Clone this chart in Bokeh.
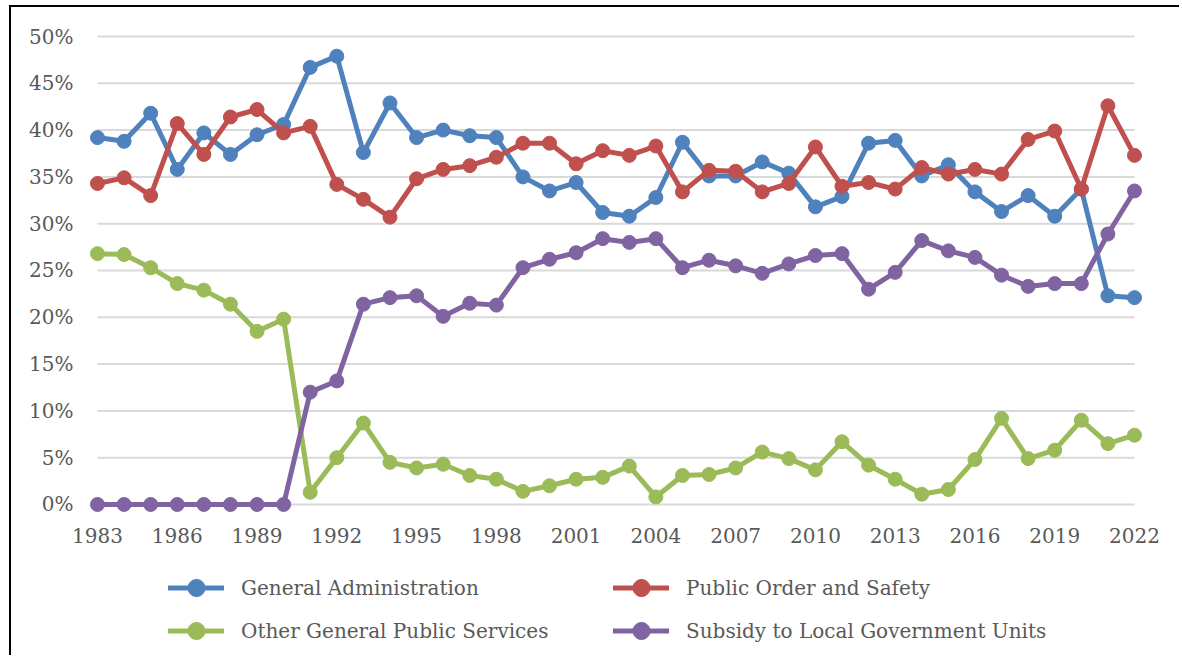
from bokeh.plotting import figure
from bokeh.models import Range1d, Legend, LegendItem, ColumnDataSource
from bokeh.core.properties import value
from bokeh.embed import file_html
from bokeh.resources import INLINE

years = list(range(1983, 2023))

# shares in percent
general_admin = [39.2, 38.8, 41.8, 35.8, 39.7, 37.4, 39.5, 40.6, 46.7, 47.9,
                 37.6, 42.9, 39.2, 40.0, 39.4, 39.2, 35.0, 33.5, 34.4, 31.2,
                 30.8, 32.8, 38.7, 35.1, 35.1, 36.6, 35.4, 31.8, 32.9, 38.6,
                 38.9, 35.1, 36.3, 33.4, 31.3, 33.0, 30.8, 33.7, 22.3, 22.1]
public_order = [34.3, 34.9, 33.0, 40.7, 37.4, 41.4, 42.2, 39.7, 40.4, 34.2,
                32.6, 30.7, 34.8, 35.8, 36.2, 37.1, 38.6, 38.6, 36.4, 37.8,
                37.3, 38.3, 33.4, 35.7, 35.6, 33.4, 34.3, 38.2, 34.0, 34.4,
                33.7, 36.0, 35.3, 35.8, 35.3, 39.0, 39.9, 33.7, 42.6, 37.3]
other_services = [26.8, 26.7, 25.3, 23.6, 22.9, 21.4, 18.5, 19.8, 1.3, 5.0,
                  8.7, 4.5, 3.9, 4.3, 3.1, 2.7, 1.4, 2.0, 2.7, 2.9,
                  4.1, 0.8, 3.1, 3.2, 3.9, 5.6, 4.9, 3.7, 6.7, 4.2,
                  2.7, 1.1, 1.6, 4.8, 9.2, 4.9, 5.8, 9.0, 6.5, 7.4]
subsidy_lgu = [0, 0, 0, 0, 0, 0, 0, 0, 12.0, 13.2,
               21.4, 22.1, 22.3, 20.1, 21.5, 21.3, 25.3, 26.2, 26.9, 28.4,
               28.0, 28.4, 25.3, 26.1, 25.5, 24.7, 25.7, 26.6, 26.8, 23.0,
               24.8, 28.2, 27.1, 26.4, 24.5, 23.3, 23.6, 23.6, 28.9, 33.5]

series_names = ["General Administration", "Public Order and Safety",
                "Other General Public Services", "Subsidy to Local Government Units"]
series_values = [general_admin, public_order, other_services, subsidy_lgu]
series_colors = ["#4F81BD", "#C0504D", "#9BBB59", "#8064A2"]

x_ticks = list(range(1983, 2023, 3))
x_tick_labels = [str(t) for t in x_ticks]
y_tick_pcts = list(range(0, 51, 5))
y_tick_labels = [f"{t}%" for t in y_tick_pcts]

FONT = "DejaVu Serif"
TEXT_COLOR = "#595959"
X_LABEL_Y = -3.31       # vertical position of the year labels (percent units)
Y_LABEL_X = 1982.097    # right edge of the percent labels (year units)

p = figure(width=1170, height=650, output_backend="svg", toolbar_location=None,
           x_range=Range1d(1979.766, 2023.768), y_range=Range1d(-16.35, 53.10),
           x_axis_location=None, y_axis_location=None,
           min_border_left=0, min_border_right=0, min_border_top=0,
           min_border_bottom=0, outline_line_color=None,
           background_fill_color="white", border_fill_color="white")
p.styles = {"border-top": "2px solid black", "border-left": "2px solid black",
            "position": "relative", "left": "9px", "top": "5px"}

p.xgrid.visible = False
p.ygrid.visible = False

# horizontal gridlines spanning the category extent
p.segment(x0=[years[0]] * len(y_tick_pcts), x1=[years[-1]] * len(y_tick_pcts),
          y0=y_tick_pcts, y1=y_tick_pcts, line_color="#d9d9d9", line_width=2,
          level="underlay")

# axis labels
p.text(x=x_ticks, y=[X_LABEL_Y] * len(x_ticks), text=x_tick_labels,
       text_align="center", text_baseline="middle",
       text_font=value(FONT), text_font_size="20px", text_color=TEXT_COLOR)
p.text(x=[Y_LABEL_X] * len(y_tick_pcts), y=y_tick_pcts, text=y_tick_labels,
       text_align="right", text_baseline="middle",
       text_font=value(FONT), text_font_size="20px", text_color=TEXT_COLOR)

renderers = {}
for name, vals, col in zip(series_names, series_values, series_colors):
    src = ColumnDataSource(dict(x=years, y=vals))
    r1 = p.line("x", "y", source=src, line_color=col, line_width=5,
                line_join="round", line_cap="round")
    r2 = p.scatter("x", "y", source=src, size=14, fill_color=col, line_color=col)
    renderers[name] = [r1, r2]

# legend fills column by column: order so rows read GA | POS, OGPS | SLGU
legend_order = [series_names[0], series_names[2], series_names[1], series_names[3]]
items = [LegendItem(label=n, renderers=renderers[n]) for n in legend_order]

legend = Legend(items=items, ncols=2, location=(157, 5),
                glyph_width=56, glyph_height=43, label_height=43,
                label_width=372, label_standoff=17, spacing=0, padding=0,
                margin=0, border_line_color=None, background_fill_alpha=0,
                label_text_font=FONT, label_text_font_size="20px",
                label_text_color=TEXT_COLOR)
p.add_layout(legend, "center")

open("out.html", "w").write(file_html(p, INLINE))
